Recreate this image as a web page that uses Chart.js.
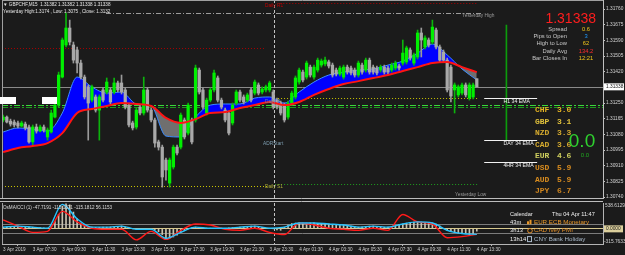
<!DOCTYPE html>
<html>
<head>
<meta charset="utf-8">
<script src="https://cdn.jsdelivr.net/npm/chart.js@4.4.1/dist/chart.umd.min.js"></script>
<style>
html, body { margin: 0; padding: 0; background: #1b1b1b; }
#wrap { position: relative; width: 625px; height: 255px; overflow: hidden; background: #1b1b1b; }
#main { position: absolute; left: 0; top: 0; }
#osc { position: absolute; left: 0; top: 203px; }
</style>
</head>
<body>
<div id="wrap">
  <canvas id="main" width="625" height="203"></canvas>
  <canvas id="osc" width="625" height="52"></canvas>
</div>
<script>
// GBPCHF M15 candles, bar 0 = 3 Apr 05:30
const opens = [
  1.31158,1.31174,1.31152,1.31147,1.31142,1.31125,1.31136,1.31120,1.31039,1.31120,
  1.31098,1.31120,1.31066,1.31093,1.31174,1.31239,1.31391,1.31565,1.31657,1.31565,
  1.31538,1.31467,1.31391,1.31338,1.31266,1.31283,1.31212,1.31321,1.31310,1.31321,
  1.31310,1.31359,1.31359,1.31321,1.31239,1.31142,1.31120,1.31228,1.31196,1.31321,
  1.31212,1.31158,1.31039,1.31011,1.30941,1.30816,1.30903,1.31011,1.31011,1.31158,
  1.31087,1.31158,1.31158,1.31429,1.31321,1.31196,1.31266,1.31321,1.31386,1.31266,
  1.31212,1.31196,1.31142,1.31250,1.31310,1.31283,1.31266,1.31321,1.31304,1.31348,
  1.31310,1.31321,1.31321,1.31310,1.31266,1.31250,1.31239,1.31174,1.31250,1.31283,
  1.31364,1.31418,1.31391,1.31445,1.31391,1.31429,1.31456,1.31462,1.31473,1.31456,
  1.31429,1.31407,1.31391,1.31445,1.31440,1.31429,1.31402,1.31456,1.31429,1.31483,
  1.31445,1.31440,1.31429,1.31445,1.31440,1.31429,1.31440,1.31451,1.31467,1.31473,
  1.31538,1.31467,1.31500,1.31630,1.31554,1.31592,1.31581,1.31646,1.31554,1.31527,
  1.31483,1.31445,1.31321,1.31294,1.31304,1.31348,1.31277,1.31283,1.31382];
const highs = [
  1.31185,1.31180,1.31163,1.31158,1.31152,1.31152,1.31147,1.31131,1.31131,1.31136,
  1.31131,1.31131,1.31115,1.31212,1.31256,1.31418,1.31603,1.31738,1.31700,1.31581,
  1.31554,1.31483,1.31402,1.31348,1.31348,1.31294,1.31294,1.31332,1.31386,1.31332,
  1.31386,1.31369,1.31402,1.31332,1.31250,1.31152,1.31223,1.31239,1.31391,1.31332,
  1.31223,1.31169,1.31049,1.31022,1.30952,1.30952,1.31022,1.31022,1.31196,1.31169,
  1.31250,1.31169,1.31456,1.31440,1.31332,1.31277,1.31332,1.31429,1.31397,1.31277,
  1.31223,1.31207,1.31250,1.31321,1.31321,1.31294,1.31304,1.31332,1.31375,1.31359,
  1.31338,1.31348,1.31369,1.31321,1.31277,1.31261,1.31250,1.31261,1.31315,1.31397,
  1.31440,1.31429,1.31478,1.31456,1.31456,1.31494,1.31489,1.31500,1.31483,1.31467,
  1.31440,1.31451,1.31456,1.31456,1.31451,1.31440,1.31478,1.31467,1.31494,1.31494,
  1.31456,1.31451,1.31456,1.31456,1.31451,1.31467,1.31478,1.31462,1.31592,1.31559,
  1.31549,1.31521,1.31646,1.31657,1.31614,1.31603,1.31700,1.31657,1.31565,1.31538,
  1.31494,1.31456,1.31359,1.31348,1.31359,1.31359,1.31359,1.31359,1.31382];
const lows = [
  1.31147,1.31142,1.31125,1.31120,1.31115,1.31120,1.31104,1.31033,1.31022,1.31087,
  1.31093,1.31093,1.31049,1.31087,1.31169,1.31228,1.31386,1.31554,1.31565,1.31467,
  1.31413,1.31380,1.31272,1.31049,1.31256,1.31201,1.31049,1.31256,1.31299,1.31245,
  1.31299,1.31310,1.31299,1.31218,1.31120,1.31104,1.31109,1.31185,1.31185,1.31201,
  1.31147,1.31011,1.30995,1.30794,1.30832,1.30794,1.30892,1.30968,1.31001,1.31055,
  1.31077,1.31028,1.31147,1.31299,1.31218,1.31185,1.31256,1.31310,1.31256,1.31218,
  1.31147,1.31077,1.31131,1.31239,1.31256,1.31245,1.31256,1.31256,1.31294,1.31294,
  1.31299,1.31310,1.31310,1.31218,1.31218,1.31185,1.31147,1.31163,1.31239,1.31272,
  1.31353,1.31364,1.31380,1.31391,1.31380,1.31418,1.31445,1.31451,1.31440,1.31391,
  1.31397,1.31397,1.31380,1.31407,1.31402,1.31391,1.31391,1.31407,1.31418,1.31407,
  1.31407,1.31402,1.31418,1.31407,1.31407,1.31418,1.31429,1.31429,1.31456,1.31462,
  1.31483,1.31456,1.31489,1.31500,1.31543,1.31554,1.31570,1.31543,1.31473,1.31473,
  1.31310,1.31256,1.31196,1.31283,1.31294,1.31283,1.31266,1.31272,1.31338];
const closes = [
  1.31174,1.31147,1.31136,1.31131,1.31125,1.31142,1.31115,1.31039,1.31120,1.31098,
  1.31120,1.31104,1.31104,1.31196,1.31239,1.31402,1.31592,1.31657,1.31581,1.31483,
  1.31467,1.31391,1.31283,1.31250,1.31338,1.31212,1.31283,1.31266,1.31364,1.31256,
  1.31359,1.31321,1.31310,1.31228,1.31131,1.31115,1.31212,1.31196,1.31321,1.31212,
  1.31158,1.31033,1.31011,1.30849,1.30887,1.30941,1.31011,1.30979,1.31185,1.31066,
  1.31239,1.31039,1.31440,1.31310,1.31228,1.31266,1.31321,1.31413,1.31266,1.31228,
  1.31158,1.31087,1.31239,1.31310,1.31266,1.31256,1.31294,1.31266,1.31364,1.31304,
  1.31326,1.31338,1.31359,1.31228,1.31228,1.31196,1.31158,1.31250,1.31304,1.31386,
  1.31429,1.31375,1.31467,1.31402,1.31445,1.31483,1.31478,1.31483,1.31451,1.31402,
  1.31407,1.31440,1.31445,1.31418,1.31413,1.31402,1.31467,1.31418,1.31483,1.31418,
  1.31418,1.31413,1.31445,1.31418,1.31418,1.31456,1.31467,1.31440,1.31521,1.31549,
  1.31494,1.31511,1.31630,1.31592,1.31603,1.31565,1.31662,1.31554,1.31483,1.31483,
  1.31321,1.31288,1.31348,1.31338,1.31348,1.31294,1.31348,1.31348,1.31338];

// moving averages, read every 4th bar
const sampleBars = [0,4,8,12,16,20,24,28,32,36,40,44,48,52,56,60,64,68,72,76,80,84,88,92,96,100,104,108,112,116,120,124,128];
const fastEma = [1.31093,1.31115,1.31109,1.31098,1.31196,1.31391,1.31337,1.31304,1.31310,1.31245,1.31234,1.31071,1.31066,1.31174,1.31239,1.31245,1.31245,1.31277,1.31283,1.31250,1.31310,1.31364,1.31402,1.31418,1.31429,1.31435,1.31456,1.31478,1.31521,1.31570,1.31511,1.31435,1.31375];
const slowEma = [1.30984,1.31006,1.31017,1.31033,1.31087,1.31196,1.31218,1.31234,1.31250,1.31245,1.31234,1.31169,1.31142,1.31163,1.31196,1.31201,1.31223,1.31239,1.31256,1.31239,1.31256,1.31294,1.31326,1.31353,1.31369,1.31386,1.31402,1.31424,1.31445,1.31467,1.31473,1.31445,1.31418];

// OsMA/CCI sub window
const cciFast = [35,57,35,13,510,210,35,35,57,-9,-9,-200,-74,35,13,13,35,57,13,35,123,123,101,79,35,57,35,101,145,123,-31,-96,-115.1871];
const cciSlow = [188,57,-74,-53,364,145,13,-9,-9,-230,-53,-220,-31,101,79,-9,-31,13,-74,-118,123,79,13,-9,-31,13,-31,298,145,101,-184,-162,-115.1812];
const osma = [
  35,40,45,50,57,50,40,35,35,30,
  25,20,13,60,150,300,473,520,500,350,
  210,120,70,40,35,30,30,35,35,40,
  45,50,57,40,20,0,-9,-5,0,-5,
  -9,-20,-60,-120,-184,-190,-170,-130,-74,-40,
  0,20,35,30,20,15,13,13,13,13,
  13,20,25,30,35,40,50,57,57,45,
  30,13,13,0,-20,-30,35,80,110,120,
  123,120,120,123,123,115,110,105,101,95,
  90,85,79,70,60,50,35,40,50,57,
  57,45,40,35,35,50,70,90,101,120,
  135,140,145,140,130,125,123,100,60,10,
  -31,-60,-80,-90,-96,-100,-120,-110,-47.7191];
const oscMax = 538.6129, oscMin = -315.7633;
const oscLevels = [-100, 0, 100];

// axis ticks
const priceTicks = [1.3176,1.31675,1.3159,1.31505,1.3142,1.31335,1.3125,1.31165,1.3108,1.30995,1.3091,1.30825,1.3074];
const timeTickBars = [0,8,16,24,32,40,48,56,64,72,80,88,96,104,112,120,128];
const timeLabels = ['3 Apr 2019','3 Apr 07:30','3 Apr 09:30','3 Apr 11:30','3 Apr 13:30','3 Apr 15:30','3 Apr 17:30','3 Apr 19:30','3 Apr 21:30','3 Apr 23:30','4 Apr 01:30','4 Apr 03:30','4 Apr 05:30','4 Apr 07:30','4 Apr 09:30','4 Apr 11:30','4 Apr 13:30'];

// levels on the price window
const bidPrice = 1.31338;
const yesterdayHigh = 1.3174;
const yesterdayR1 = 1.31549;
const dailyR1 = 1.31793;
const dailyPivot = 1.31277;
const yesterdayS1 = 1.30800;
const dailyS1 = 1.30811;
const greenBands = [1.31242, 1.31231];
const emaNames = ['H1 34 EMA', 'DAY 34 EMA', '4HR 34 EMA'];
const emaPrices = [1.31277, 1.31049, 1.30930];
const dayBar = 136, dayHigh = 1.31673, dayLow = 1.31049;
const dayStartBar = 73.25;

// side panels
const infoNames = ['Spread', 'Pips to Open', 'High to Low', 'Daily Avg', 'Bar Closes In'];
const infoValues = ['0.6', '3', '62', '134.2', '12:21'];
const infoColors = ['#f0c419', '#1e9bff', '#f0c419', '#ff2d2d', '#f0c419'];
const currencies = ['CHF', 'GBP', 'NZD', 'CAD', 'EUR', 'USD', 'AUD', 'JPY'];
const strength = [3.0, 3.1, 3.3, 3.6, 4.6, 5.9, 5.9, 6.7];
const currencyColors = ['#e6b422', '#e2c23c', '#d6ab2e', '#d6ab2e', '#cfcf5e', '#d98c1e', '#d98c1e', '#d2871f'];
const calTimes = ['43m', '3h13', '13h14'];
const calEvents = ['EUR ECB Monetary', 'CAD Ivey PMI', 'CNY Bank Holiday'];
const calColors = ['#e8982a', '#e08e2a', '#a9b8c8'];

const sans = '"Liberation Sans", Arial, sans-serif';
const xMin = -0.3, xMax = 162.1;

function txt(ctx, s, x, y, color, size, align, weight, family) {
  ctx.font = (weight || 'normal') + ' ' + size + 'px ' + (family || sans);
  ctx.fillStyle = color;
  ctx.textAlign = align || 'left';
  ctx.textBaseline = 'middle';
  ctx.fillText(s, x, y);
}
function hline(ctx, y, x0, x1, color, dash, w) {
  ctx.save();
  ctx.strokeStyle = color; ctx.lineWidth = w || 1; ctx.setLineDash(dash || []);
  const yy = Math.round(y) + 0.5;
  ctx.beginPath(); ctx.moveTo(x0, yy); ctx.lineTo(x1, yy); ctx.stroke();
  ctx.restore();
}
function vline(ctx, x, y0, y1, color, dash) {
  ctx.save();
  ctx.strokeStyle = color; ctx.lineWidth = 1; ctx.setLineDash(dash || []);
  const xx = Math.round(x) + 0.5;
  ctx.beginPath(); ctx.moveTo(xx, y0); ctx.lineTo(xx, y1); ctx.stroke();
  ctx.restore();
}

const bars = closes.map((c, i) => i);
const isUp = i => closes[i] >= opens[i];

const mainDecor = {
  id: 'mainDecor',
  beforeDatasetsDraw(chart) {
    const {ctx, chartArea: a, scales: {x, y}} = chart;
    const X = v => x.getPixelForValue(v), Y = p => y.getPixelForValue(p);
    ctx.save();
    ctx.beginPath(); ctx.rect(a.left, a.top, a.right - a.left, a.bottom - a.top); ctx.clip();
    hline(ctx, Y(yesterdayHigh), 106, X(129.7), '#9c9c9c', [5, 2, 1, 2]);
    hline(ctx, Y(yesterdayR1), a.left, X(70.8), '#a40000', [1, 2]);
    hline(ctx, Y(dailyR1), X(74.9), X(128.4), '#b00000', [1, 2]);
    hline(ctx, Y(dailyPivot), X(74.3), X(128.4), '#c9c400', [1, 2]);
    hline(ctx, Y(yesterdayS1), a.left, X(71.4), '#c9c400', [1, 2]);
    hline(ctx, Y(dailyS1), X(73.5), X(128.4), '#1f9f1f', [1, 2]);
    hline(ctx, Y(bidPrice), a.left, a.right, '#8a8a8a');
    greenBands.forEach((p, k) => hline(ctx, Y(p), a.left, a.right, k ? '#1c9a1c' : '#3ad83a', [6, 2, 2, 2]));
    vline(ctx, X(dayStartBar), a.top, a.bottom, '#c4c4c4', [3, 2]);
    ctx.restore();
  },
  afterDraw(chart) {
    const {ctx, chartArea: a, scales: {x, y}} = chart;
    const X = v => x.getPixelForValue(v), Y = p => y.getPixelForValue(p);
    ctx.save();
    // frame
    vline(ctx, 2, 0, a.bottom, '#a0a0a0');
    hline(ctx, 0, 2, a.right, '#a0a0a0');
    hline(ctx, 198, 0, a.right, '#bdbdbd');
    hline(ctx, 201, 0, a.right, '#bdbdbd');
    // header
    txt(ctx, '\u25BC GBPCHF,M15  1.31382 1.31382 1.31338 1.31338', 3, 5, '#e6e6e6', 4.6);
    txt(ctx, 'Yesterday High:1.3174 , Low: 1.3075 , Close: 1.3132', 3, 11.5, '#e6e6e6', 4.6);
    // left marker boxes
    ctx.fillStyle = '#ffffff';
    ctx.fillRect(0, 97, 16, 7);
    ctx.fillRect(42, 97, 15, 7);
    // level labels
    txt(ctx, 'Yesterday High', 462, Y(yesterdayHigh) + 3, '#9a9a9a', 4.8);
    txt(ctx, 'Daily R1', 265, Y(dailyR1) + 3, '#c40000', 4.8);
    txt(ctx, 'Daily P', 265, Y(dailyPivot) + 4, '#76879a', 4.8);
    txt(ctx, 'ADRStart', 263, 144, '#7f9fb2', 4.8);
    txt(ctx, 'Daily S1', 265, Y(dailyS1) + 3, '#b2b23a', 4.8);
    txt(ctx, 'Yesterday Low', 455, 195, '#9a9a9a', 4.8);
    // EMA markers
    emaPrices.forEach((p, k) => {
      hline(ctx, Y(p), X(130), X(144.3), '#f2f2f2');
      txt(ctx, emaNames[k], X(135.2), Y(p) + 3.6, '#f0f0f0', 5.2);
    });
    // info block
    txt(ctx, '1.31338', 596, 19, '#ff1e1e', 14, 'right');
    infoNames.forEach((n, k) => {
      const yy = 29 + k * 7.4;
      txt(ctx, n, 567, yy, '#c8c8c8', 5.8, 'right');
      txt(ctx, infoValues[k], 586, yy, infoColors[k], 5.8, 'center');
    });
    // currency strength
    currencies.forEach((c, k) => {
      const yy = 110 + k * 11.6;
      txt(ctx, c, 535, yy, currencyColors[k], 8, 'left', 'bold', '"Liberation Mono", monospace');
      txt(ctx, strength[k].toFixed(1), 557, yy, currencyColors[k], 8, 'left', 'bold', '"Liberation Mono", monospace');
    });
    txt(ctx, '0.0', 582, 142, '#2fd12f', 19, 'center');
    txt(ctx, '0.0', 585, 155, '#1faa1f', 6, 'center');
    // bid price box on the axis
    const by = Y(bidPrice);
    ctx.fillStyle = '#ffffff';
    ctx.fillRect(604, by - 3.5, 20, 7);
    txt(ctx, '1.31338', 606, by + 0.3, '#111111', 4.8);
    ctx.restore();
  }
};

new Chart(document.getElementById('main'), {
  type: 'bar',
  data: {
    datasets: [
      { type: 'bar', label: 'wick', data: bars.map(i => ({x: i, y: [lows[i], highs[i]]})),
        barThickness: 1, grouped: false, order: 1,
        backgroundColor: c => isUp(c.dataIndex) ? '#0cb30c' : '#9a9a9a' },
      { type: 'bar', label: 'body', data: bars.map(i => ({x: i, y: [opens[i], closes[i]]})),
        barThickness: 2.6, minBarLength: 1, grouped: false, order: 0,
        backgroundColor: c => isUp(c.dataIndex) ? '#00f000' : '#a9a9a9' },
      { type: 'bar', label: 'day range', data: [{x: dayBar, y: [dayLow, dayHigh]}],
        barThickness: 1, grouped: false, order: 1, backgroundColor: '#0c9c0c' },
      { type: 'line', label: 'fast EMA', data: sampleBars.map((b, k) => ({x: b, y: fastEma[k]})),
        borderColor: '#3c8cff', borderWidth: 1, pointRadius: 0, cubicInterpolationMode: 'monotone',
        fill: {target: 4, above: '#0000ff', below: '#6f6f6f'}, order: 3 },
      { type: 'line', label: 'slow EMA', data: sampleBars.map((b, k) => ({x: b, y: slowEma[k]})),
        borderColor: '#ff1414', borderWidth: 2, pointRadius: 0, cubicInterpolationMode: 'monotone',
        fill: false, order: -1 }
    ]
  },
  options: {
    responsive: false, animation: false, devicePixelRatio: 1,
    layout: { padding: { left: 2, right: 0, top: 0, bottom: 5 } },
    plugins: { legend: { display: false }, tooltip: { enabled: false } },
    scales: {
      x: { type: 'linear', min: xMin, max: xMax, offset: false, display: false },
      y: {
        position: 'right', min: 1.30735, max: 1.31809,
        afterBuildTicks: s => { s.ticks = priceTicks.map(v => ({value: v})); },
        afterFit: s => { s.width = 22; s.paddingTop = 0; s.paddingBottom = 0; },
        ticks: { color: '#d2d2d2', padding: 1, font: { size: 4.8, family: sans }, callback: v => v.toFixed(5) },
        grid: { drawOnChartArea: false, tickLength: 2, color: '#c0c0c0' },
        border: { color: '#c0c0c0' }
      }
    }
  },
  plugins: [mainDecor]
});

const oscDecor = {
  id: 'oscDecor',
  beforeDatasetsDraw(chart) {
    const {ctx, chartArea: a, scales: {x}} = chart;
    vline(ctx, x.getPixelForValue(dayStartBar), a.top, a.bottom, '#c4c4c4', [3, 2]);
  },
  afterDraw(chart) {
    const {ctx, chartArea: a, scales: {y}} = chart;
    ctx.save();
    vline(ctx, 2, a.top, a.bottom, '#a0a0a0');
    txt(ctx, 'OsMA/CCI (1) -47.7191 -115.1871 -115.1812 56.1153', 3, 4.5, '#dcdcdc', 4.6);
    // axis values
    txt(ctx, oscMax.toFixed(4), 605, 2.5, '#d2d2d2', 4.8);
    const z = y.getPixelForValue(0);
    ctx.fillStyle = '#dccf9c';
    ctx.fillRect(604, z - 3.5, 19, 7);
    txt(ctx, (0).toFixed(4), 606, z + 0.3, '#1a1a1a', 4.8);
    txt(ctx, oscMin.toFixed(4), 604, 39, '#d2d2d2', 4.8);
    // calendar
    txt(ctx, 'Calendar', 510, 11, '#f0f0f0', 5.6);
    txt(ctx, 'Thu 04 Apr 11:47', 552, 11, '#f0f0f0', 5.6);
    calTimes.forEach((t, k) => {
      const yy = 19.3 + k * 8.4;
      txt(ctx, t, 510, yy, '#f0f0f0', 5.8);
      ctx.strokeStyle = calColors[k]; ctx.fillStyle = calColors[k]; ctx.lineWidth = 1;
      if (k === 0) { ctx.fillRect(527, yy - 1, 2, 3); ctx.fillRect(529.5, yy - 2.5, 2, 4.5); }
      else if (k === 1) { ctx.beginPath(); ctx.arc(530, yy, 2.3, 0, Math.PI * 2); ctx.stroke(); }
      else { ctx.strokeRect(527.5, yy - 2.5, 4, 5); }
      txt(ctx, calEvents[k], 534, yy, calColors[k], 6.2);
    });
    ctx.restore();
  }
};

new Chart(document.getElementById('osc'), {
  type: 'bar',
  data: {
    datasets: [
      { type: 'bar', label: 'OsMA', data: bars.map(i => ({x: i, y: osma[i]})),
        barThickness: 1, grouped: false, backgroundColor: '#c9c3b0', order: 3 },
      { type: 'line', label: 'CCI signal', data: sampleBars.map((b, k) => ({x: b, y: cciSlow[k]})),
        borderColor: '#ff1a1a', borderWidth: 1.4, pointRadius: 0, cubicInterpolationMode: 'monotone', order: 1 },
      { type: 'line', label: 'CCI', data: sampleBars.map((b, k) => ({x: b, y: cciFast[k]})),
        borderColor: '#27c4ff', borderWidth: 1.4, pointRadius: 0, cubicInterpolationMode: 'monotone', order: 0 }
    ]
  },
  options: {
    responsive: false, animation: false, devicePixelRatio: 1,
    layout: { padding: { left: 2, right: 0, top: 0, bottom: 0 } },
    plugins: { legend: { display: false }, tooltip: { enabled: false } },
    scales: {
      x: {
        type: 'linear', min: xMin, max: xMax, offset: false,
        afterBuildTicks: s => { s.ticks = timeTickBars.map(v => ({value: v})); },
        afterFit: s => { s.height = 11; s.paddingLeft = 0; s.paddingRight = 0; },
        ticks: { autoSkip: false, maxRotation: 0, align: 'start', padding: 1, color: '#d2d2d2',
                 font: { size: 4.6, family: sans }, callback: (v, i) => timeLabels[i] },
        grid: { drawOnChartArea: false, tickLength: 2, color: '#b4b4b4' },
        border: { color: '#b4b4b4' }
      },
      y: {
        position: 'right', min: oscMin, max: oscMax,
        afterBuildTicks: s => { s.ticks = oscLevels.map(v => ({value: v})); },
        afterFit: s => { s.width = 22; s.paddingTop = 0; s.paddingBottom = 0; },
        ticks: { display: false },
        grid: { drawTicks: false, color: c => c.tick && c.tick.value === 0 ? '#d6c88e' : '#7c7c7c' },
        border: { color: '#b4b4b4' }
      }
    }
  },
  plugins: [oscDecor]
});
</script>
</body>
</html>
